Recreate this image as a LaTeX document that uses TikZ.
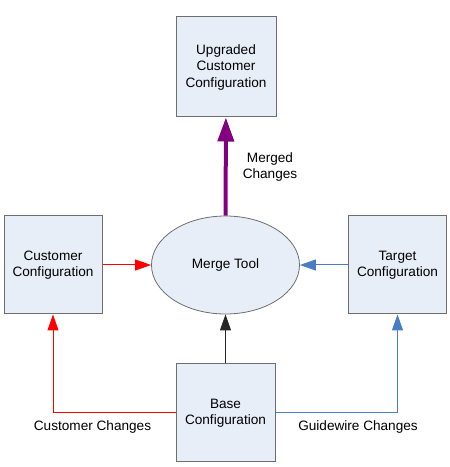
\documentclass[tikz,border=0pt]{standalone}
\usepackage{fontspec}
\setmainfont{Liberation Sans}
\usetikzlibrary{shapes.geometric,arrows.meta}
\definecolor{boxfill}{RGB}{232,238,248}
\definecolor{boxline}{RGB}{110,110,110}
\definecolor{gwblue}{RGB}{72,124,196}
\definecolor{mergepurple}{RGB}{128,0,128}
\begin{document}
\begin{tikzpicture}[x=1pt,y=1pt,
every node/.style={anchor=center,
font=\fontsize{13.6}{16.5}\selectfont,
align=center
},
conf/.style={%
draw=boxline,
fill=boxfill,
line width=1pt,
minimum width=98pt,
minimum height=98pt,
inner sep=0pt
},
tool/.style={%
draw=boxline,
fill=boxfill,
ellipse,
line width=0.8pt,
minimum width=148pt,
minimum height=98pt,
inner sep=0pt
},
thin/.style={%
line width=1pt,
-{Triangle[length=16pt,width=11pt]}
}]
\useasboundingbox (0,0) rectangle (450,467);
\node[conf,minimum width=100pt,minimum height=100pt]at(226,400)(upg){Upgraded\\Customer\\Configuration};
\node[conf]at(53,202)(cust){Customer\\Configuration};
\node[conf]at(397.5,202)(targ){Target\\Configuration};
\node[conf,minimum width=99pt]at(225.5,54)(base){Base\\Configuration};
\node[tool]at(225.5,202)(merge){Merge Tool};
\node[]at(92.5,40)(custchg){Customer Changes};
\node[]at(358,40)(gwchg){Guidewire Changes};
\node[]at(270,300)(mrgchg){Merged\\Changes};
\draw [thin,red] (cust)--(merge);
\draw [thin,gwblue] (targ)--(merge);
\draw [thin,black!85] (base)--(merge);
\draw [thin,red] (base.west)-|(cust);
\draw [thin,gwblue] (base.east)-|(targ);
\draw [-{Triangle[length=24pt,width=16pt]},line width=4pt,mergepurple] (merge)--(upg);
\end{tikzpicture}
\end{document}
